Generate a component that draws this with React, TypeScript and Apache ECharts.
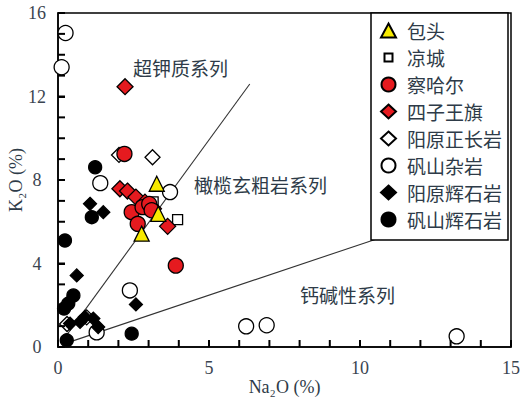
import React, { useEffect, useRef } from "react";
import * as echarts from "echarts";

const seriesNames = ["包头", "凉城", "察哈尔", "四子王旗", "阳原正长岩", "矾山杂岩", "阳原辉石岩", "矾山辉石岩"];

const baotou = [[3.27, 7.82], [3.32, 6.38], [2.77, 5.43]];
const liangcheng = [[3.96, 6.1], [3.15, 6.95]];
const chahaer = [[2.2, 9.25], [2.44, 6.46], [2.64, 5.9], [2.8, 6.7], [3.02, 6.85], [3.1, 6.55], [3.9, 3.9]];
const siziwangqi = [[2.22, 12.47], [2.05, 7.58], [2.3, 7.47], [2.58, 7.18], [2.88, 6.94], [3.16, 6.62], [3.63, 5.78]];
const yangyuanSyenite = [[2.02, 9.2], [3.13, 9.09], [0.3, 1.1], [0.95, 1.42]];
const fanshanComplex = [[0.25, 15.04], [0.12, 13.4], [1.4, 7.85], [3.71, 7.42], [2.38, 2.71], [1.28, 0.7], [6.23, 0.99], [6.91, 1.04], [13.2, 0.51]];
const yangyuanPyroxenite = [[1.06, 6.86], [1.5, 6.46], [0.62, 3.43], [0.4, 1.12], [0.73, 1.2], [0.89, 1.44], [1.17, 1.36], [1.33, 0.96], [2.58, 2.04]];
const fanshanPyroxenite = [[1.23, 8.61], [1.12, 6.22], [0.23, 5.1], [0.51, 2.47], [0.34, 2.08], [0.2, 1.84], [0.29, 0.32], [2.44, 0.64]];

const upperBoundary = [[0.25, 0.5], [6.35, 12.6]];
const lowerBoundary = [[0.2, 0.15], [10.6, 5.2]];

const xLabelStep = 5;
const yLabelStep = 4;
const xTickValues = [1, 2, 3, 4, 5, 6, 7, 8, 9, 10, 11, 12, 13, 14];
const yTickValues = [1, 2, 3, 4, 5, 6, 7, 8, 9, 10, 11, 12, 13, 14, 15];

const fieldLabels = ["超钾质系列", "橄榄玄粗岩系列", "钙碱性系列"];

const CJK = '"Noto Sans CJK SC", sans-serif';
const SERIF = '"Liberation Serif", "DejaVu Serif", serif';
const TXT = "#2e3b48";

export default function App() {
  const ref = useRef<HTMLDivElement>(null);
  useEffect(() => {
    if (!ref.current) return;
    const chart = echarts.init(ref.current, undefined, { renderer: "svg" });
    const sc = (name: string, data: number[][], symbol: string, size: number, color: string, z: number) => ({
      name,
      type: "scatter",
      data,
      symbol,
      symbolSize: size,
      z,
      itemStyle: { color, borderColor: "#000", borderWidth: 1.3, opacity: 1 },
      emphasis: { disabled: true },
    });
    const ln = (data: number[][]) => ({
      type: "line",
      data,
      symbol: "none",
      z: 1,
      lineStyle: { color: "#333", width: 1.1 },
      silent: true,
    });
    const tickSeries = (values: number[], vertical: boolean) => ({
      type: "custom",
      silent: true,
      clip: false,
      z: 7,
      data: values.map((v) => (vertical ? [v, 0] : [0, v])),
      renderItem: (_p: any, api: any) => {
        const pt = api.coord([api.value(0), api.value(1)]);
        return {
          type: "line",
          shape: vertical
            ? { x1: pt[0], y1: pt[1], x2: pt[0], y2: pt[1] - 7 }
            : { x1: pt[0], y1: pt[1], x2: pt[0] + 7, y2: pt[1] },
          style: { stroke: "#000", lineWidth: 2 },
        };
      },
    });
    const legendData = seriesNames.map((name, i) =>
      i === 1 ? { name, icon: "path://M0,0M14,14M3,3L11,3L11,11L3,11Z" } : { name }
    );
    const tickStyle = { color: "#000", width: 2 };
    const axisLine = { show: true, onZero: false, lineStyle: { color: "#000", width: 1.5 } };
    const option = {
      animation: false,
      backgroundColor: "#fff",
      grid: {
        left: 58,
        right: 11,
        top: 13,
        bottom: 55,
        show: true,
        borderColor: "#000",
        borderWidth: 1.5,
        containLabel: false,
        outerBoundsMode: "none",
      },
      xAxis: {
        type: "value",
        min: 0,
        max: 15,
        interval: xLabelStep,
        name: "Na₂O (%)",
        nameLocation: "middle",
        nameGap: 31,
        nameMoveOverlap: false,
        nameTextStyle: { fontFamily: SERIF, fontSize: 18, color: TXT },
        axisLine,
        axisTick: { show: true, inside: true, length: 7, lineStyle: tickStyle },
        splitLine: { show: false },
        axisLabel: { show: true, margin: 12, fontFamily: SERIF, fontSize: 18, color: "#3a4450" },
      },
      yAxis: {
        type: "value",
        min: 0,
        max: 16,
        interval: yLabelStep,
        name: "K₂O (%)",
        nameLocation: "middle",
        nameGap: 33,
        nameMoveOverlap: false,
        nameTextStyle: { fontFamily: SERIF, fontSize: 18, color: TXT },
        axisLine,
        axisTick: { show: true, inside: true, length: 7, lineStyle: tickStyle },
        splitLine: { show: false },
        axisLabel: { show: true, margin: 21, align: "center", fontFamily: SERIF, fontSize: 18, color: "#3a4450" },
      },
      legend: {
        data: legendData,
        orient: "vertical",
        left: 371,
        top: 13,
        itemWidth: 15,
        itemHeight: 14,
        itemGap: 8,
        padding: [8, 6, 11, 9],
        borderColor: "#000",
        borderWidth: 1.5,
        backgroundColor: "#fff",
        selectedMode: false,
        textStyle: { fontFamily: CJK, fontSize: 19, color: TXT, padding: [0, 0, 0, 6] },
      },
      series: [
        ln(upperBoundary),
        ln(lowerBoundary),
        tickSeries(xTickValues, true),
        tickSeries(yTickValues, false),
        sc(seriesNames[0], baotou, "triangle", 15, "#f7ea00", 6),
        sc(seriesNames[1], liangcheng, "rect", 10, "#fff", 3),
        sc(seriesNames[2], chahaer, "circle", 15, "#e51a1f", 5),
        sc(seriesNames[3], siziwangqi, "diamond", 16, "#e51a1f", 4),
        sc(seriesNames[4], yangyuanSyenite, "diamond", 15, "#fff", 2),
        sc(seriesNames[5], fanshanComplex, "circle", 15, "#fff", 2),
        sc(seriesNames[6], yangyuanPyroxenite, "diamond", 13, "#000", 3),
        sc(seriesNames[7], fanshanPyroxenite, "circle", 13, "#000", 3),
      ],
      graphic: [
        { type: "text", left: 133, top: 58, style: { text: fieldLabels[0], font: `19px ${CJK}`, fill: TXT } },
        { type: "text", left: 194, top: 175, style: { text: fieldLabels[1], font: `19px ${CJK}`, fill: TXT } },
        { type: "text", left: 300, top: 285, style: { text: fieldLabels[2], font: `19px ${CJK}`, fill: TXT } },
      ],
    };
    chart.setOption(option as any);
    return () => chart.dispose();
  }, []);
  return <div ref={ref} style={{ position: "fixed", left: 0, top: 0, width: 522, height: 402 }} />;
}
